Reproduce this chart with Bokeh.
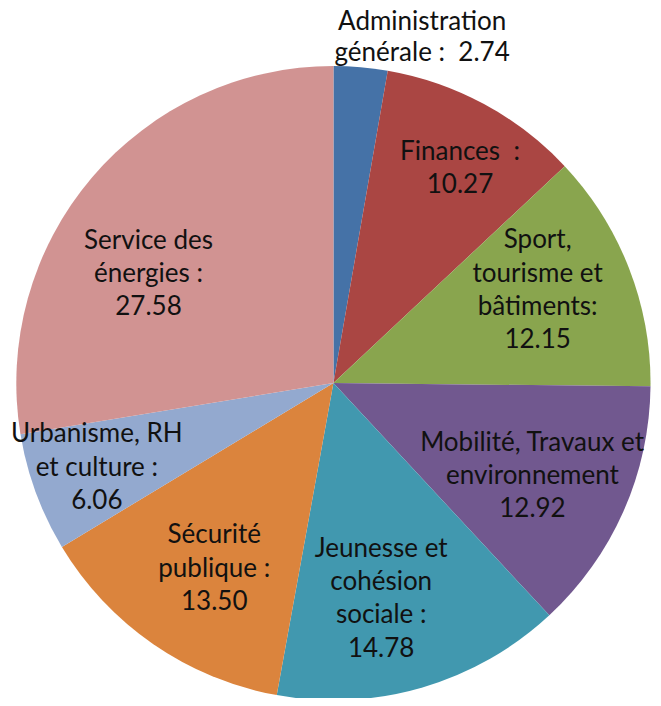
import math
from bokeh.plotting import figure
from bokeh.models import Range1d, ColumnDataSource
from bokeh.core.properties import value
from bokeh.embed import file_html
from bokeh.resources import INLINE

# ---- data ----
categories = ["Administration\ngénérale :\u00a0 2.74", "Finances \u00a0:\n10.27",
              "Sport,\ntourisme et\nbâtiments:\n12.15",
              "Mobilité, Travaux et\nenvironnement\n12.92",
              "Jeunesse et\ncohésion\nsociale :\n14.78",
              "Sécurité\npublique :\n13.50",
              "Urbanisme, RH\net culture :\n6.06",
              "Service des\nénergies :\n27.58"]
values = [2.74, 10.27, 12.15, 12.92, 14.78, 13.50, 6.06, 27.58]
colors = ["#4572A7", "#AA4643", "#89A54E", "#71588F",
          "#4198AF", "#DB843D", "#93A9CF", "#D19392"]

# ---- layout (label placement) ----
R = 321
label_r = [1.13, 0.79, 0.71, 0.69, 0.69, 0.69, 0.79, 0.68]
label_dang = [-9.4, -2.0, 3.6, -0.7, -3.7, 1.6, -1.0, 9.4]

total = sum(values)
starts, ends, lx, ly = [], [], [], []
cum = 0.0
for i, v in enumerate(values):
    a0 = math.pi / 2 - 2 * math.pi * cum / total
    cum += v
    a1 = math.pi / 2 - 2 * math.pi * cum / total
    starts.append(a1)
    ends.append(a0)
    mid = (a0 + a1) / 2 + math.radians(label_dang[i])
    lx.append(R * label_r[i] * math.cos(mid))
    ly.append(R * label_r[i] * math.sin(mid))

src = ColumnDataSource(dict(start=starts, end=ends, color=colors))
src_out = ColumnDataSource(dict(label=categories[:1], lx=lx[:1], ly=ly[:1]))
src_in = ColumnDataSource(dict(label=categories[1:], lx=lx[1:], ly=ly[1:]))

p = figure(width=653, height=698, output_backend="svg", toolbar_location=None,
           x_range=Range1d(-337, 324), y_range=Range1d(-319, 387),
           min_border=0)
p.axis.visible = False
p.grid.visible = False
p.outline_line_color = None

p.wedge(x=0, y=0, radius=R, start_angle="start", end_angle="end",
        direction="anticlock", fill_color="color", line_color=None, source=src)

p.text(x="lx", y="ly", text="label", source=src_in,
       text_font=value("Lato"), text_font_size="26px", text_color="#111111",
       text_align="center", text_baseline="middle", text_line_height=1.04)
p.text(x="lx", y="ly", text="label", source=src_out,
       text_font=value("Lato"), text_font_size="26px", text_color="#111111",
       text_align="center", text_baseline="middle", text_line_height=0.96)

open("out.html", "w").write(file_html(p, INLINE))
